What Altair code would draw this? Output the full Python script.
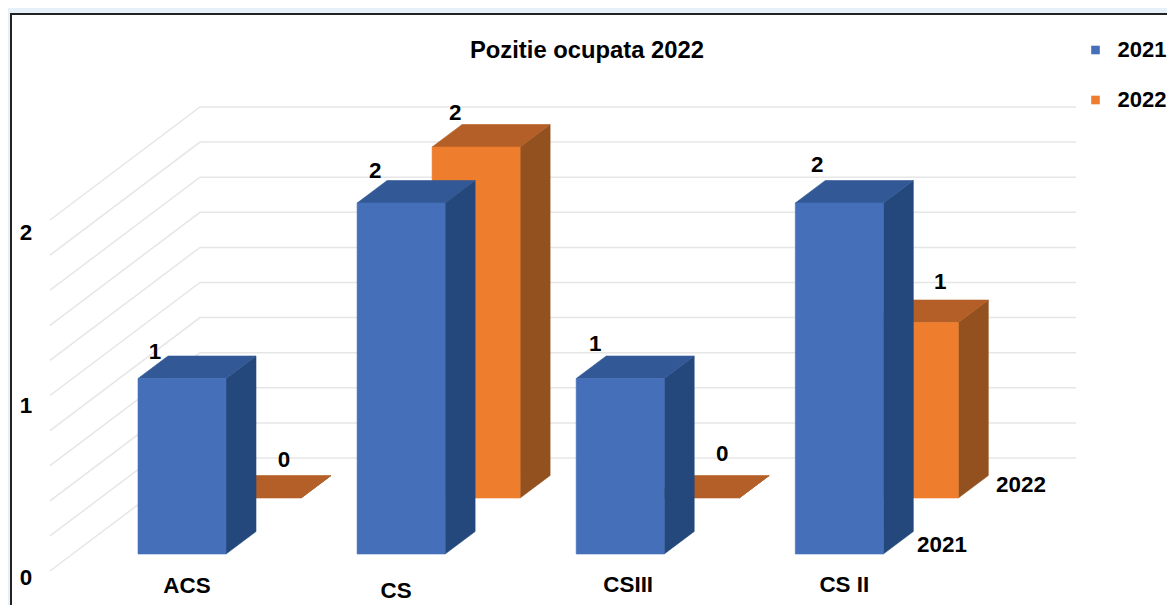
import altair as alt
import pandas as pd

# ---- chart values ----
CATEGORIES = ["ACS", "CS", "CSIII", "CS II"]
VALUES_2021 = [1, 2, 1, 2]
VALUES_2022 = [0, 2, 0, 1]
SERIES = ["2021", "2022"]
GRID_LEVELS = [0.0, 0.2, 0.4, 0.6, 0.8, 1.0, 1.2, 1.4, 1.6, 1.8, 2.0]
VALUE_TICKS = ["0", "1", "2"]
TITLE = "Pozitie ocupata 2022"

# ---- look ----
BLUE = ["#4570B9", "#325996", "#24487C"]    # front, top, side
ORANGE = ["#EE7D2E", "#B35F27", "#92511E"]
GRID = "#E6E6E6"
FONT = "Liberation Sans"

# ---- oblique projection: px per unit, all faces derive from the values ----
W, H = 1159, 597
STEP = 219.1        # px per category
UNIT = 175.5        # px per value unit
X0, Y0 = 138, 554   # page px of the first front bar's base corner
ux = lambda px: (px - X0) / STEP
vy = lambda py: (Y0 - py) / UNIT
BAR_W = 88 / STEP
DEPTH_X, DEPTH_Y = 30 / STEP, 22.5 / UNIT
SER_X, SER_Y = 75 / STEP, 56 / UNIT          # 2022 row stands behind 2021
WALL_X, WALL_Y = 150 / STEP, 113 / UNIT

xs = alt.X("x:Q", axis=None, scale=alt.Scale(domain=[ux(8), ux(8 + W)], nice=False, zero=False))
ys = alt.Y("y:Q", axis=None, scale=alt.Scale(domain=[vy(8 + H), vy(8)], nice=False, zero=False))


def faces(values, row):
    front, top, side = [], [], []
    for i, v in enumerate(values):
        x = i + row * SER_X
        b = row * SER_Y
        t = b + v
        front.append(dict(x=x, x2=x + BAR_W, y=b, y2=t, series=SERIES[row]))
        top.append(dict(id=i, y=t, x=x, x2=x + BAR_W))
        top.append(dict(id=i, y=t + DEPTH_Y, x=x + DEPTH_X, x2=x + BAR_W + DEPTH_X))
        side.append(dict(id=i, x=x + BAR_W, y=b, y2=t))
        side.append(dict(id=i, x=x + BAR_W + DEPTH_X, y=b + DEPTH_Y, y2=t + DEPTH_Y))
    return pd.DataFrame(front), pd.DataFrame(top), pd.DataFrame(side)


color_scale = alt.Scale(domain=SERIES, range=[BLUE[0], ORANGE[0]])
legend = alt.Legend(
    title=None, orient="none", legendX=1076.5, legendY=31, symbolType="square", symbolSize=74,
    symbolStrokeWidth=0, labelFont=FONT, labelFontSize=22, labelFontWeight="bold", labelColor="#000000",
    labelOffset=11, rowPadding=28, values=SERIES,
)


def bars(values, row, palette):
    fr, to, si = faces(values, row)
    return [
        alt.Chart(si).mark_area(orient="vertical", color=palette[2], stroke=palette[2], strokeWidth=0.6).encode(
            x=xs, y=ys, y2="y2:Q", detail="id:N"),
        alt.Chart(to).mark_area(orient="horizontal", color=palette[1], stroke=palette[1], strokeWidth=0.6).encode(
            y=ys, x=xs, x2="x2:Q", detail="id:N"),
        alt.Chart(fr[fr["y2"] > fr["y"]]).mark_rect(strokeWidth=0.6, stroke=palette[0]).encode(
            x=xs, x2="x2:Q", y=ys, y2="y2:Q",
            color=alt.Color("series:N", scale=color_scale, legend=legend)),
    ]


# gridlines: back wall plus the floor-ward diagonal on the left side wall
grid_rows = []
for k, level in enumerate(GRID_LEVELS):
    base = level + (458 - 554) * -1 / UNIT
    grid_rows.append(dict(id=k, o=0, x=ux(50), y=base - WALL_Y))
    grid_rows.append(dict(id=k, o=1, x=ux(50) + WALL_X, y=base))
    grid_rows.append(dict(id=k, o=2, x=ux(1076), y=base))
grid = alt.Chart(pd.DataFrame(grid_rows)).mark_line(color=GRID, strokeWidth=1.5).encode(
    x=xs, y=ys, detail="id:N", order="o:Q")

# text layers
LABEL_NUDGE_2021 = [(17, -28), (18, -33), (19, -36), (22, -39)]
LABEL_NUDGE_2022 = [(71, -39), (23, -35), (71, -45), (70, -42)]
labels = []
for row, (vals, nudges) in enumerate([(VALUES_2021, LABEL_NUDGE_2021), (VALUES_2022, LABEL_NUDGE_2022)]):
    for i, v in enumerate(vals):
        labels.append(dict(
            x=i + row * SER_X + nudges[i][0] / STEP,
            y=row * SER_Y + v - nudges[i][1] / UNIT,
            t=str(v)))

CAT_NUDGE = [(49, -31), (39, -36), (52, -30), (49, -30)]
cat_rows = [dict(x=i + CAT_NUDGE[i][0] / STEP, y=CAT_NUDGE[i][1] / UNIT, t=c) for i, c in enumerate(CATEGORIES)]
tick_rows = [dict(x=ux(26), y=vy(py), t=t) for t, py in zip(VALUE_TICKS, [577, 405, 232])]
series_rows = [dict(x=ux(942), y=vy(544), t=SERIES[0]), dict(x=ux(1021), y=vy(484), t=SERIES[1])]
title_rows = [dict(x=ux(587), y=vy(50), t=TITLE)]


def text(rows, size=22.4):
    return alt.Chart(pd.DataFrame(rows)).mark_text(
        font=FONT, fontWeight="bold", fontSize=size, color="#000000", align="center", baseline="middle", dy=1
    ).encode(x=xs, y=ys, text="t:N")


frame_df = pd.DataFrame({"k": [0]})
strip_top = alt.Chart(frame_df).mark_rect(color="#E6F0F8").encode(
    x=alt.value(0), x2=alt.value(W), y=alt.value(0), y2=alt.value(5))
strip_left = alt.Chart(frame_df).mark_rect(color="#E6F0F8").encode(
    x=alt.value(0), x2=alt.value(2), y=alt.value(0), y2=alt.value(H))
rule_top = alt.Chart(frame_df).mark_rect(color="#222222").encode(
    x=alt.value(2), x2=alt.value(W), y=alt.value(5), y2=alt.value(7))
rule_left = alt.Chart(frame_df).mark_rect(color="#222222").encode(
    x=alt.value(2), x2=alt.value(4), y=alt.value(5), y2=alt.value(H))

layers = [strip_top, strip_left, rule_top, rule_left, grid]
layers += bars(VALUES_2022, 1, ORANGE)
layers += bars(VALUES_2021, 0, BLUE)
layers += [text(labels), text(cat_rows), text(tick_rows), text(series_rows), text(title_rows, 23.8)]

chart = alt.layer(*layers).properties(
    width=W, height=H, padding=0, autosize=alt.AutoSizeParams(type="none"), background="white"
).configure_view(stroke=None)

chart.save("out.html", embed_options={"renderer": "svg", "actions": False})
